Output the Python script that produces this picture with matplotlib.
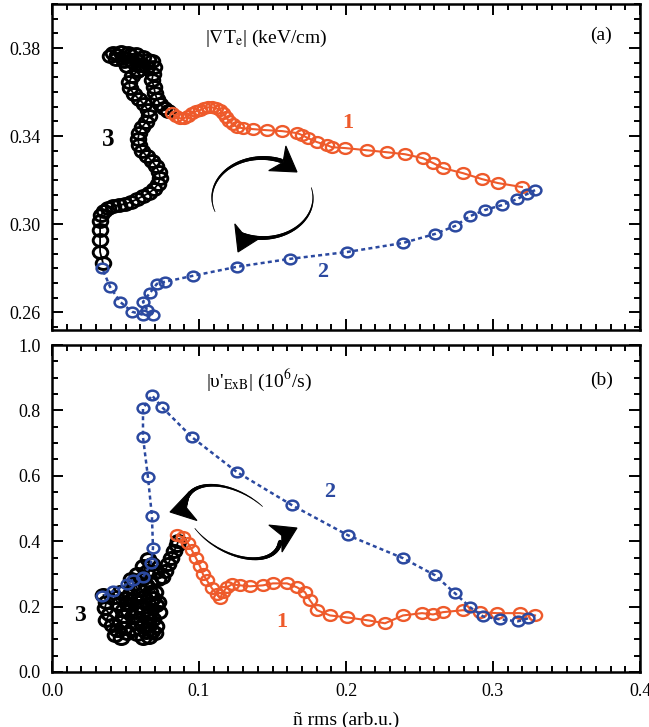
import numpy as np
import matplotlib
matplotlib.use('Agg')
import matplotlib.pyplot as plt
from matplotlib.path import Path
from matplotlib.patches import Polygon
from matplotlib.collections import LineCollection
import matplotlib.transforms as mtransforms
from matplotlib.ticker import MultipleLocator, FormatStrFormatter

plt.rcParams['font.family'] = ['Liberation Serif', 'DejaVu Serif']
plt.rcParams['mathtext.fontset'] = 'stix'

# ---------------- data : panel (a) |grad Te| vs n rms ----------------
a_orange_x = [0.0816, 0.0844, 0.0871, 0.0898, 0.0925, 0.0952, 0.0980, 0.1007, 0.1034, 0.1061,
              0.1088, 0.1116, 0.1143, 0.1163, 0.1184, 0.1204, 0.1231, 0.1259, 0.1299, 0.1367,
              0.1463, 0.1565, 0.1667, 0.1701, 0.1741, 0.1803, 0.1871, 0.1905, 0.1993, 0.2143,
              0.2279, 0.2401, 0.2524, 0.2592, 0.2660, 0.2796, 0.2925, 0.3034, 0.3197]
a_orange_y = [0.3504, 0.3491, 0.3481, 0.3481, 0.3491, 0.3504, 0.3513, 0.3518, 0.3527, 0.3531,
              0.3531, 0.3527, 0.3518, 0.3504, 0.3486, 0.3468, 0.3454, 0.3441, 0.3436, 0.3432,
              0.3427, 0.3423, 0.3414, 0.3405, 0.3391, 0.3373, 0.3359, 0.3350, 0.3346, 0.3336,
              0.3327, 0.3318, 0.3300, 0.3278, 0.3255, 0.3232, 0.3205, 0.3187, 0.3169]

a_blue_x = [0.3286, 0.3231, 0.3163, 0.3061, 0.2946, 0.2844, 0.2741, 0.2605, 0.2388, 0.2007,
            0.1619, 0.1259, 0.0959, 0.0769, 0.0714, 0.0667, 0.0619, 0.0646, 0.0687, 0.0619,
            0.0544, 0.0463, 0.0395, 0.0340]
a_blue_y = [0.3155, 0.3137, 0.3114, 0.3087, 0.3065, 0.3037, 0.2992, 0.2956, 0.2915, 0.2874,
            0.2843, 0.2807, 0.2766, 0.2739, 0.2730, 0.2689, 0.2648, 0.2612, 0.2589, 0.2589,
            0.2603, 0.2648, 0.2716, 0.2802]

a_black_x = [0.0347, 0.0327, 0.0327, 0.0327, 0.0327, 0.0333, 0.0354, 0.0381, 0.0415, 0.0456,
             0.0497, 0.0537, 0.0578, 0.0619, 0.0660, 0.0694, 0.0721, 0.0735, 0.0728, 0.0707,
             0.0680, 0.0646, 0.0612, 0.0592, 0.0585, 0.0592, 0.0612, 0.0639, 0.0660, 0.0653,
             0.0626, 0.0592, 0.0558, 0.0531, 0.0524, 0.0544, 0.0578, 0.0592, 0.0571, 0.0531,
             0.0483, 0.0435, 0.0395, 0.0415, 0.0469, 0.0517, 0.0571, 0.0619, 0.0653, 0.0680,
             0.0612, 0.0551, 0.0490, 0.0442, 0.0510, 0.0585, 0.0646,
             0.0694, 0.0687, 0.0680, 0.0694, 0.0701, 0.0714, 0.0735, 0.0762, 0.0789]
a_black_y = [0.2824, 0.2874, 0.2928, 0.2974, 0.3015, 0.3042, 0.3060, 0.3074, 0.3083, 0.3087,
             0.3092, 0.3101, 0.3114, 0.3128, 0.3142, 0.3160, 0.3182, 0.3210, 0.3237, 0.3264,
             0.3287, 0.3309, 0.3332, 0.3359, 0.3386, 0.3414, 0.3441, 0.3463, 0.3491, 0.3518,
             0.3545, 0.3568, 0.3590, 0.3617, 0.3645, 0.3672, 0.3694, 0.3722, 0.3749, 0.3767,
             0.3753, 0.3749, 0.3762, 0.3776, 0.3781, 0.3776, 0.3771, 0.3758, 0.3744, 0.3740,
             0.3722, 0.3735, 0.3740, 0.3767, 0.3717, 0.3699, 0.3713,
             0.3713, 0.3681, 0.3654, 0.3622, 0.3595, 0.3568, 0.3545, 0.3527, 0.3513]

# ---------------- data : panel (b) |v'ExB| vs n rms ----------------
b_orange_x = [0.0850, 0.0891, 0.0925, 0.0952, 0.0980, 0.1007, 0.1027, 0.1054, 0.1088, 0.1122,
              0.1143, 0.1163, 0.1190, 0.1224, 0.1279, 0.1347, 0.1435, 0.1503, 0.1599, 0.1667,
              0.1721, 0.1755, 0.1803, 0.1891, 0.2007, 0.2150, 0.2265, 0.2388, 0.2517, 0.2592,
              0.2660, 0.2796, 0.2912, 0.3027, 0.3184, 0.3286]
b_orange_y = [0.418, 0.412, 0.394, 0.372, 0.348, 0.323, 0.299, 0.280, 0.256, 0.238,
              0.225, 0.244, 0.259, 0.268, 0.265, 0.262, 0.265, 0.271, 0.271, 0.259,
              0.244, 0.219, 0.189, 0.173, 0.167, 0.158, 0.149, 0.173, 0.180, 0.176,
              0.183, 0.189, 0.183, 0.180, 0.180, 0.173]

b_blue_x = [0.3238, 0.3170, 0.3048, 0.2932, 0.2844, 0.2741, 0.2605, 0.2388, 0.2014, 0.1633,
            0.1259, 0.0952, 0.0748, 0.0680, 0.0619, 0.0619, 0.0653, 0.0680, 0.0687, 0.0673,
            0.0619, 0.0551, 0.0510, 0.0415, 0.0340]
b_blue_y = [0.164, 0.155, 0.161, 0.170, 0.198, 0.241, 0.296, 0.348, 0.418, 0.510,
            0.611, 0.718, 0.810, 0.846, 0.806, 0.718, 0.595, 0.476, 0.378, 0.332,
            0.290, 0.281, 0.269, 0.247, 0.232]

b_black_x = [0.035, 0.037, 0.036, 0.039, 0.037, 0.041, 0.044, 0.043, 0.047, 0.051,
             0.049, 0.046, 0.049, 0.052, 0.055, 0.057, 0.055, 0.058, 0.062, 0.064,
             0.062, 0.059, 0.057, 0.053, 0.050, 0.046, 0.043, 0.045, 0.048, 0.051,
             0.053, 0.056, 0.059, 0.062, 0.065, 0.066, 0.068, 0.066, 0.070, 0.071,
             0.069, 0.067, 0.065, 0.062, 0.059, 0.056, 0.054, 0.058, 0.061, 0.064,
             0.067, 0.069, 0.071, 0.073, 0.072, 0.070, 0.067, 0.064, 0.062, 0.065,
             0.068, 0.070, 0.072, 0.075, 0.077, 0.079, 0.081, 0.083, 0.085, 0.086]
b_black_y = [0.235, 0.215, 0.195, 0.178, 0.160, 0.145, 0.128, 0.112, 0.104, 0.118,
             0.135, 0.152, 0.170, 0.188, 0.172, 0.150, 0.130, 0.115, 0.105, 0.122,
             0.142, 0.162, 0.185, 0.205, 0.225, 0.245, 0.228, 0.208, 0.190, 0.212,
             0.238, 0.222, 0.202, 0.185, 0.165, 0.145, 0.125, 0.108, 0.118, 0.140,
             0.162, 0.185, 0.208, 0.228, 0.250, 0.268, 0.285, 0.300, 0.285, 0.265,
             0.245, 0.225, 0.205, 0.185, 0.215, 0.245, 0.275, 0.305, 0.325, 0.345,
             0.330, 0.305, 0.285, 0.290, 0.310, 0.330, 0.350, 0.370, 0.388, 0.402]

x_ticks = [0.0, 0.1, 0.2, 0.3, 0.4]
a_yticks = [0.26, 0.30, 0.34, 0.38]
b_yticks = [0.0, 0.2, 0.4, 0.6, 0.8, 1.0]

ORANGE = '#EE5A2B'
BLUE = '#2B49A0'
BLACK = '#000000'

ell = Path.unit_circle().transformed(mtransforms.Affine2D().scale(1.0, 0.82))

FIG_W, FIG_H = 649, 727
fig = plt.figure(figsize=(FIG_W / 100, FIG_H / 100), dpi=100)
# axes boxes in image pixels: left, top, right, bottom
BOX1 = (52, 4, 640, 330)
BOX2 = (52, 345, 640, 672)


def add_ax(box):
    l, t, r, b = box
    return fig.add_axes([l / FIG_W, (FIG_H - b) / FIG_H, (r - l) / FIG_W, (b - t) / FIG_H])


ax1 = add_ax(BOX1)
ax2 = add_ax(BOX2)


def draw_series(ax, bx, by, ox, oy, blx, bly, bk_ms, bk_mew):
    ax.plot(bx, by, color=BLACK, lw=1.3, marker=ell, ms=bk_ms, mfc='none', mec=BLACK, mew=bk_mew, zorder=2)
    ax.plot(ox, oy, color=ORANGE, lw=1.5, marker=ell, ms=9.5, mfc='none', mec=ORANGE, mew=1.7, zorder=3)
    ax.plot(blx, bly, color=BLUE, lw=1.8, ls=(0, (1.6, 1.3)), marker=ell, ms=8.5, mfc='none',
            mec=BLUE, mew=1.8, zorder=4)


draw_series(ax1, a_black_x, a_black_y, a_orange_x, a_orange_y, a_blue_x, a_blue_y, 10.5, 2.1)
draw_series(ax2, b_black_x, b_black_y, b_orange_x, b_orange_y, b_blue_x, b_blue_y, 10.5, 2.2)

for ax in (ax1, ax2):
    ax.set_xlim(0.0, 0.4)
    ax.set_xticks(x_ticks)
    ax.xaxis.set_minor_locator(MultipleLocator(0.01))
    ax.tick_params(which='both', direction='in', top=True, right=True, width=1.4)
    ax.tick_params(which='major', length=8, labelsize=13, pad=8)
    ax.tick_params(which='minor', length=4)
    for s in ax.spines.values():
        s.set_linewidth(1.8)

ax1.set_ylim(0.252, 0.400)
ax1.set_yticks(a_yticks)
ax1.yaxis.set_minor_locator(MultipleLocator(0.02 / 3))
ax1.yaxis.set_major_formatter(FormatStrFormatter('%.2f'))
ax1.tick_params(axis='x', labelbottom=False)

ax2.set_ylim(0.0, 1.0)
ax2.set_yticks(b_yticks)
ax2.yaxis.set_minor_locator(MultipleLocator(0.05))
ax2.yaxis.set_major_formatter(FormatStrFormatter('%.1f'))
ax2.xaxis.set_major_formatter(FormatStrFormatter('%.1f'))
ax2.set_xlabel('ñ rms (arb.u.)', fontsize=14, labelpad=8)

# texts
ax1.text(0.26, 0.895, r'|$\nabla$T$_{\rm e}$| (keV/cm)', transform=ax1.transAxes, fontsize=14,
         ha='left', va='center')
ax1.text(0.952, 0.905, '(a)', transform=ax1.transAxes, fontsize=14, ha='right', va='center')
ax1.text(0.095, 0.583, '3', transform=ax1.transAxes, fontsize=18, fontweight='bold',
         ha='center', va='center', color=BLACK)
ax1.text(0.503, 0.635, '1', transform=ax1.transAxes, fontsize=16, fontweight='bold',
         ha='center', va='center', color=ORANGE)
ax1.text(0.461, 0.178, '2', transform=ax1.transAxes, fontsize=16, fontweight='bold',
         ha='center', va='center', color=BLUE)

ax2.text(0.262, 0.893, r"|υ'$_{\rm ExB}$| (10$^{6}$/s)", transform=ax2.transAxes, fontsize=14,
         ha='left', va='center')
ax2.text(0.954, 0.893, '(b)', transform=ax2.transAxes, fontsize=14, ha='right', va='center')
ax2.text(0.048, 0.174, '3', transform=ax2.transAxes, fontsize=17, fontweight='bold',
         ha='center', va='center', color=BLACK)
ax2.text(0.391, 0.153, '1', transform=ax2.transAxes, fontsize=16, fontweight='bold',
         ha='center', va='center', color=ORANGE)
ax2.text(0.473, 0.550, '2', transform=ax2.transAxes, fontsize=16, fontweight='bold',
         ha='center', va='center', color=BLUE)


def px2ax(box, px, py):
    l, t, r, b = box
    return (np.asarray(px, dtype=float) - l) / (r - l), (b - np.asarray(py, dtype=float)) / (b - t)


def arc_with_head(ax, box, c, a, b, phi, t0, t1, tip, d, L=24.0, hw=15.0, notch=7.0, n=80):
    t = np.radians(np.linspace(t0, t1, n))
    p = np.radians(phi)
    ux, uy = np.cos(p), np.sin(p)
    vx, vy = -np.sin(p), np.cos(p)
    # image coordinates (y down)
    px = c[0] + a * np.cos(t) * ux + b * np.sin(t) * vx
    py = c[1] - (a * np.cos(t) * uy + b * np.sin(t) * vy)
    xs, ys = px2ax(box, px, py)
    pts = np.column_stack([xs, ys]).reshape(-1, 1, 2)
    segs = np.concatenate([pts[:-1], pts[1:]], axis=1)
    widths = np.linspace(0.5, 3.2, len(segs))
    lc = LineCollection(segs, linewidths=widths, colors='black', transform=ax.transAxes,
                        capstyle='round', zorder=5)
    ax.add_collection(lc)
    d = np.asarray(d, dtype=float)
    d = d / np.hypot(*d)
    nrm = np.array([-d[1], d[0]])
    tipv = np.asarray(tip, dtype=float)
    hv = np.array([tipv,
                   tipv - L * d + hw * nrm,
                   tipv - (L - notch) * d,
                   tipv - L * d - hw * nrm])
    hx, hy = px2ax(box, hv[:, 0], hv[:, 1])
    ax.add_patch(Polygon(np.column_stack([hx, hy]), closed=True, transform=ax.transAxes,
                         facecolor='black', edgecolor='black', lw=0.8, zorder=6))


# top panel: clockwise circular arrows
arc_with_head(ax1, BOX1, (262.5, 198), 50.5, 40.0, 0.0, 200, 68, (297, 172), (0.82, 0.57))
arc_with_head(ax1, BOX1, (262.5, 198), 50.5, 40.0, 0.0, 15, -115, (238, 252), (-0.43, 0.90))
# bottom panel: tilted counter-clockwise arrows
arc_with_head(ax2, BOX2, (233, 522), 52.0, 30.0, -30.0, 70, 195, (170, 512), (-0.97, 0.25))
arc_with_head(ax2, BOX2, (233, 522), 52.0, 30.0, -30.0, 235, 372, (297, 528), (0.90, -0.44))

fig.savefig('out.png', dpi=100)
